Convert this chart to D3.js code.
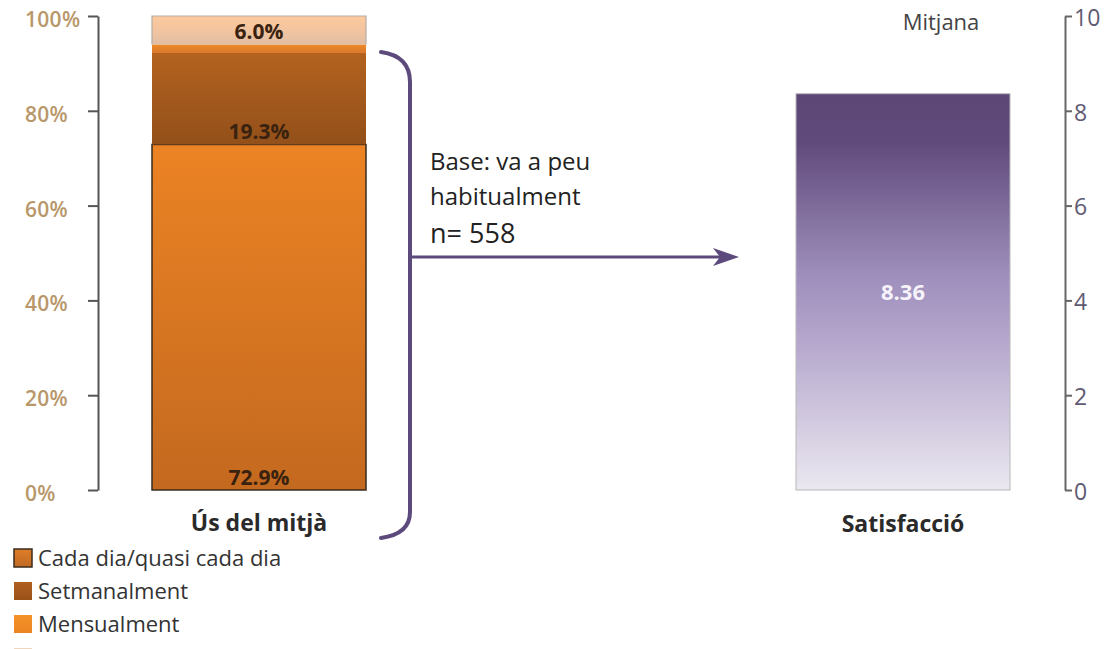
<!DOCTYPE html>
<html><head><meta charset="utf-8">
<script src="https://cdn.jsdelivr.net/npm/d3@7"></script>
<style>
html,body{margin:0;padding:0;background:#fff;overflow:hidden;}
svg{display:block;}
text{font-family:"Open Sans","Noto Sans",sans-serif;}
</style></head>
<body>
<svg id="c" width="1109" height="649"></svg>
<script>
// ---- data ----
const usageCategory = ["Ús del mitjà"];
const usageSeries = ["Cada dia/quasi cada dia", "Setmanalment", "Mensualment", "Menys d'un cop al mes"];
const usageValues = [72.9, 19.3, 1.8, 6.0];
const usageLabels = ["72.9%", "19.3%", null, "6.0%"];
const pctTicks = [0, 20, 40, 60, 80, 100];

const satCategory = ["Satisfacció"];
const satValues = [8.36];
const satTicks = [0, 2, 4, 6, 8, 10];
const satTitle = "Mitjana";
const baseText = ["Base: va a peu", "habitualment", "n= 558"];

// ---- setup ----
const svg = d3.select("#c");
const defs = svg.append("defs");
function grad(id, stops) {
  const g = defs.append("linearGradient").attr("id", id)
    .attr("x1", 0).attr("y1", 0).attr("x2", 0).attr("y2", 1);
  stops.forEach(s => g.append("stop").attr("offset", s[0]).attr("stop-color", s[1]));
}
grad("g0", [[0, "#ec8324"], [1, "#c3691f"]]);
grad("g1", [[0, "#b3621f"], [1, "#93501a"]]);
grad("g2", [[0, "#ee8a2a"], [1, "#d9792a"]]);
grad("g3", [[0, "#fdca9e"], [0.6, "#f0c3a0"], [1, "#dfbea4"]]);
grad("gp", [[0, "#5d4777"], [0.12, "#604a7b"], [0.45, "#9d8dbb"], [0.62, "#b4a6cc"], [1, "#ebe8f0"]]);
grad("l0", [[0, "#dd7d28"], [1, "#c06a24"]]);
grad("l1", [[0, "#b0601f"], [1, "#9a5218"]]);
grad("l2", [[0, "#f59228"], [1, "#ea8422"]]);
grad("l3", [[0, "#efd6bf"], [1, "#d9c3ae"]]);
const segFill = ["url(#g0)", "url(#g1)", "url(#g2)", "url(#g3)"];
const legFill = ["url(#l0)", "url(#l1)", "url(#l2)", "url(#l3)"];

const yTop = 16, yBot = 490;
const yPct = d3.scaleLinear().domain([0, 100]).range([yBot, yTop]);
const ySat = d3.scaleLinear().domain([0, 10]).range([yBot, yTop]);
const xL = d3.scaleBand().domain(usageCategory).range([152, 366]).padding(0);
const xR = d3.scaleBand().domain(satCategory).range([796, 1010]).padding(0);

// ---- left axis ----
const axL = svg.append("g").attr("transform", "translate(98,0)")
  .call(d3.axisLeft(yPct).tickValues(pctTicks).tickFormat(d => d + "%").tickSize(10).tickSizeOuter(0));
axL.select(".domain").attr("stroke", "#555").attr("stroke-width", 2);
axL.selectAll(".tick line").attr("stroke", "#555").attr("stroke-width", 2);
axL.selectAll(".tick text").attr("x", -73).attr("text-anchor", "start").attr("dy", "0.5em")
  .attr("fill", "#b8976a").attr("font-size", 21).attr("font-weight", 600)
  .attr("letter-spacing", 0.3)
  .style("font-family", "'Open Sans',sans-serif");

// ---- stacked bar ----
const stack = [];
let acc = 0;
usageValues.forEach((v, i) => { stack.push({ i, y0: acc, y1: acc + v, v, label: usageLabels[i] }); acc += v; });
const bl = svg.append("g");
bl.selectAll("rect").data(stack).join("rect")
  .attr("x", xL(usageCategory[0])).attr("width", xL.bandwidth())
  .attr("y", d => yPct(d.y1)).attr("height", d => yPct(d.y0) - yPct(d.y1))
  .attr("fill", d => segFill[d.i])
  .attr("stroke", d => d.i === 0 ? "#3a2b1c" : "none").attr("stroke-width", 1.5);
const topSeg = stack[stack.length - 1];
bl.append("path")
  .attr("d", `M${xL(usageCategory[0])},${yPct(topSeg.y0)}V${yPct(topSeg.y1)}H${xL(usageCategory[0]) + xL.bandwidth()}V${yPct(topSeg.y0)}`)
  .attr("fill", "none").attr("stroke", "#b5aca3").attr("stroke-width", 1.2);
bl.selectAll("text").data(stack.filter(d => d.label)).join("text")
  .attr("x", xL(usageCategory[0]) + xL.bandwidth() / 2)
  .attr("y", d => yPct(d.y0) - 5)
  .attr("text-anchor", "middle").attr("font-size", 21).attr("font-weight", 700)
  .attr("fill", "#3a2210").text(d => d.label);

svg.append("text").attr("x", xL(usageCategory[0]) + xL.bandwidth() / 2).attr("y", 531)
  .attr("text-anchor", "middle").attr("font-size", 23).attr("font-weight", 700).attr("fill", "#2a2a2a")
  .text(usageCategory[0]);

// ---- legend ----
const lg = svg.append("g");
usageSeries.forEach((s, i) => {
  const cy = 558 + i * 33;
  lg.append("rect").attr("x", 14).attr("y", cy - 9).attr("width", 18).attr("height", 18)
    .attr("fill", legFill[i]).attr("stroke", i === 0 ? "#3a2b1c" : "none").attr("stroke-width", 1.5);
  lg.append("text").attr("x", 38).attr("y", cy + 8).attr("font-size", 22).attr("fill", "#333").text(s);
});

// ---- bracket & arrow ----
const br = d3.path();
br.moveTo(381, 52);
br.quadraticCurveTo(410, 56, 410, 82);
br.lineTo(410, 512);
br.quadraticCurveTo(410, 534, 381, 538);
svg.append("path").attr("d", br.toString()).attr("fill", "none").attr("stroke", "#5b4a7b").attr("stroke-width", 4).attr("stroke-linecap", "round");
svg.append("line").attr("x1", 410).attr("x2", 722).attr("y1", 257).attr("y2", 257).attr("stroke", "#5b4a7b").attr("stroke-width", 3);
svg.append("path").attr("d", "M713,248L739,257L713,266L720,257Z").attr("fill", "#5b4a7b");

const bt = svg.append("g");
bt.append("text").attr("x", 430).attr("y", 170).attr("font-size", 24).attr("fill", "#222").text(baseText[0]);
bt.append("text").attr("x", 430).attr("y", 205).attr("font-size", 24).attr("fill", "#222").text(baseText[1]);
bt.append("text").attr("x", 430).attr("y", 243).attr("font-size", 27).attr("fill", "#222").text(baseText[2]);

// ---- right bar ----
svg.append("g").selectAll("rect").data(satValues).join("rect")
  .attr("x", xR(satCategory[0])).attr("width", xR.bandwidth())
  .attr("y", d => ySat(d)).attr("height", d => yBot - ySat(d))
  .attr("fill", "url(#gp)").attr("stroke", "#b8b8b8").attr("stroke-width", 1);
svg.append("g").selectAll("text").data(satValues).join("text")
  .attr("x", xR(satCategory[0]) + xR.bandwidth() / 2)
  .attr("y", d => (ySat(d) + yBot) / 2 + 8)
  .attr("text-anchor", "middle").attr("font-size", 22).attr("font-weight", 700).attr("fill", "#f6f4fa")
  .text(d => d.toFixed(2));
svg.append("text").attr("x", xR(satCategory[0]) + xR.bandwidth() / 2).attr("y", 532)
  .attr("text-anchor", "middle").attr("font-size", 23).attr("font-weight", 700).attr("fill", "#2a2a2a")
  .text(satCategory[0]);
svg.append("text").attr("x", 941).attr("y", 30).attr("text-anchor", "middle")
  .attr("font-size", 22).attr("fill", "#444").text(satTitle);

// ---- right axis ----
const axR = svg.append("g").attr("transform", "translate(1065,0)")
  .call(d3.axisRight(ySat).tickValues(satTicks).tickSize(7).tickSizeOuter(0));
axR.select(".domain").attr("stroke", "#666").attr("stroke-width", 2);
axR.selectAll(".tick line").attr("stroke", "#666").attr("stroke-width", 2);
axR.selectAll(".tick text").attr("x", 9).attr("dy", "0.4em")
  .attr("fill", "#5f5a72").attr("font-size", 23)
  .style("font-family", "'Open Sans',sans-serif");
</script>
</body></html>
